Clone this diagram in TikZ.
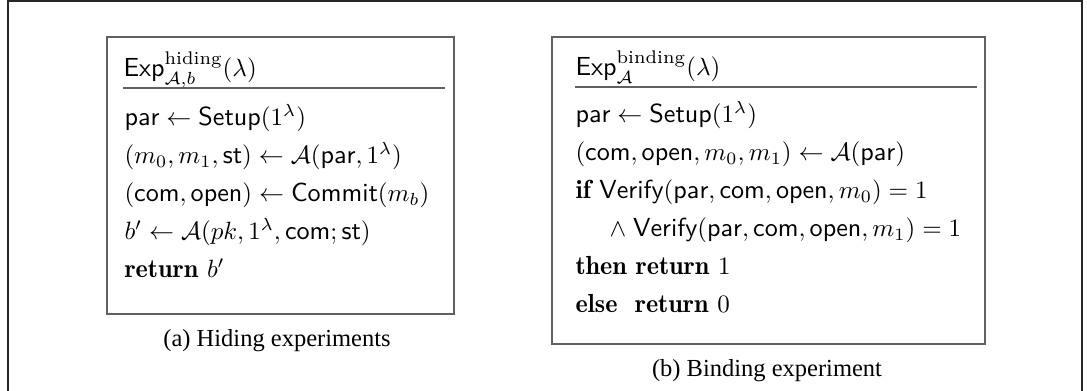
\documentclass[tikz,border=0pt]{standalone}
\usepackage{fontspec}
\newfontfamily\capfont{Liberation Serif}
\begin{document}
\begin{tikzpicture}[x=0.4pt,y=-0.4pt,
  txtline/.style={inner sep=0pt, anchor=base west, font=\fontsize{10.45}{13}\selectfont},
  captxt/.style={inner sep=0pt, anchor=base, font=\capfont\fontsize{9.8}{12}\selectfont},
  boxline/.style={draw=black!62, line width=0.75pt},
  headrule/.style={draw=black!62, line width=0.75pt},
  outerframe/.style={draw=black!85, line width=0.5pt}]
\useasboundingbox (0,0) rectangle (1087,391);
% outer frame
\coordinate (fbl) at (8,395);
\coordinate (ftl) at (8,1);
\coordinate (ftr) at (1082,1);
\coordinate (fbr) at (1082,395);
\draw[outerframe] (fbl) -- (ftl) -- (ftr) -- (fbr);
% left box
\draw[boxline] (107,37) rectangle (454,314);
\coordinate (lr1) at (123,88); \coordinate (lr2) at (445,88);
\draw[headrule] (lr1) -- (lr2);
\node[txtline] (lh) at (123,77) {$\mathsf{Exp}^{\mathrm{hiding}}_{\mathcal{A},b}(\lambda)$};
\node[txtline] (l1) at (124,126) {$\mathsf{par} \leftarrow \mathsf{Setup}(1^\lambda)$};
\node[txtline] (l2) at (124,164) {$(m_0, m_1, \mathsf{st}) \leftarrow \mathcal{A}(\mathsf{par}, 1^\lambda)$};
\node[txtline] (l3) at (124,202) {$(\mathsf{com}, \mathsf{open}) \leftarrow \mathsf{Commit}(m_b)$};
\node[txtline] (l4) at (124,240) {$b' \leftarrow \mathcal{A}(pk, 1^\lambda, \mathsf{com}; \mathsf{st})$};
\node[txtline] (l5) at (124,278) {$\mathbf{return}\ b'$};
\node[captxt] (capa) at (277,347) {(a) Hiding experiments};
% right box
\draw[boxline] (552,37) rectangle (985,344);
\coordinate (rr1) at (575,87); \coordinate (rr2) at (977,87);
\draw[headrule] (rr1) -- (rr2);
\node[txtline] (rh) at (575,76) {$\mathsf{Exp}^{\mathrm{binding}}_{\mathcal{A}}(\lambda)$};
\node[txtline] (r1) at (575,123) {$\mathsf{par} \leftarrow \mathsf{Setup}(1^\lambda)$};
\node[txtline] (r2) at (575,161) {$(\mathsf{com}, \mathsf{open}, m_0, m_1) \leftarrow \mathcal{A}(\mathsf{par})$};
\node[txtline] (r3) at (575,199) {$\mathbf{if}\ \mathsf{Verify}(\mathsf{par}, \mathsf{com}, \mathsf{open}, m_0) = 1$};
\node[txtline] (r4) at (575,237) {$\hspace{13.6pt}\wedge\;\mathsf{Verify}(\mathsf{par}, \mathsf{com}, \mathsf{open}, m_1) = 1$};
\node[txtline] (r5) at (575,275) {$\mathbf{then}\ \mathbf{return}\ 1$};
\node[txtline] (r6) at (575,313) {$\mathbf{else}\ \ \mathbf{return}\ 0$};
\node[captxt] (capb) at (767,377) {(b) Binding experiment};
\end{tikzpicture}
\end{document}
